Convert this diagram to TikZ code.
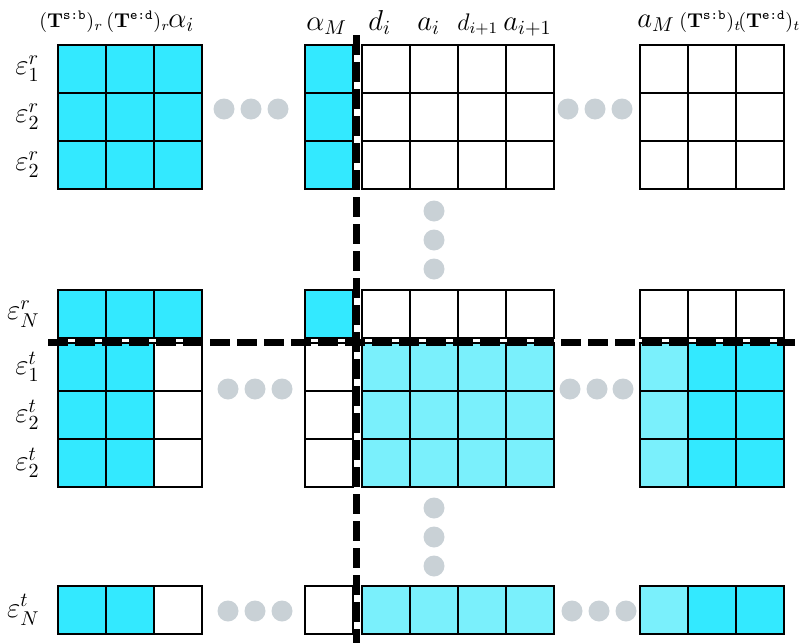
\documentclass[tikz,border=0pt]{standalone}
\usepackage{amsmath}
\usetikzlibrary{positioning}
\definecolor{cyanbox}{RGB}{51,233,255}
\definecolor{lightbox}{RGB}{122,240,252}
\definecolor{dotgray}{RGB}{201,209,214}

\begin{document}
\begin{tikzpicture}[x=0.5pt,y=-0.5pt,
  cell/.style={draw,line width=0.9pt,minimum size=24pt,inner sep=0pt,anchor=north west},
  full/.style={cell,fill=cyanbox},
  half/.style={cell,fill=lightbox},
  blank/.style={cell,fill=white},
  dot/.style={circle,fill=dotgray,minimum size=10.5pt,inner sep=0pt},
  cut/.style={line width=3.5pt,dash pattern=on 10pt off 3.5pt},
  lab/.style={inner sep=0pt,anchor=base west,font=\Large},
  row/.style={inner sep=0pt,left=8.5pt of #1,font=\Large}]
  \useasboundingbox (0,0) rectangle (810,643);

  % r rows
  \foreach \y/\r in {44/1,92/2,140/3,289/4} {
    \foreach \x/\c in {57/1,105/2,153/3} \node[full] (L\r\c) at (\x,\y) {};
    \node[full] (A\r) at (304,\y) {};
    \foreach \x/\c in {361/1,409/2,457/3,505/4} \node[blank] (D\r\c) at (\x,\y) {};
    \foreach \x/\c in {639/1,687/2,735/3} \node[blank] (R\r\c) at (\x,\y) {};
  }
  % t rows
  \foreach \y/\r in {342/5,390/6,438/7,585/8} {
    \node[full]	(L\r1)	at (57,\y)	{};
    \node[full]	(L\r2)	at (105,\y)	{};
    \node[blank]	(L\r3)	at (153,\y)	{};
    \node[blank]	(A\r)	at (304,\y)	{};
    \foreach \x/\c in {361/1,409/2,457/3,505/4} \node[half] (D\r\c) at (\x,\y) {};
    \node[half]	(R\r1)	at (639,\y)	{};
    \node[full]	(R\r2)	at (687,\y)	{};
    \node[full]	(R\r3)	at (735,\y)	{};
  }

  \node[row=L11]	(er1)	{$\varepsilon^r_1$};
  \node[row=L21]	(er2)	{$\varepsilon^r_2$};
  \node[row=L31]	(er3)	{$\varepsilon^r_2$};
  \node[row=L41]	(erN)	{$\varepsilon^r_N$};
  \node[row=L51]	(et1)	{$\varepsilon^t_1$};
  \node[row=L61]	(et2)	{$\varepsilon^t_2$};
  \node[row=L71]	(et3)	{$\varepsilon^t_2$};
  \node[row=L81]	(etN)	{$\varepsilon^t_N$};

  \node[lab,font=\normalsize]	(tsbr)	at (39,27)	{$(\mathbf{T}^{\text{\ttfamily s:b}})_r$};
  \node[lab,font=\normalsize]	(tedr)	at (106,27)	{$(\mathbf{T}^{\text{\ttfamily e:d}})_r$};
  \node[lab]	(ai)	at (168,27)	{$\alpha_i$};
  \node[lab]	(aM)	at (306,30)	{$\alpha_M$};
  \node[lab]	(di)	at (368,30)	{$d_i$};
  \node[lab]	(ai2)	at (417,30)	{$a_i$};
  \node[lab,font=\large]	(di1)	at (457,30)	{$d_{i+1}$};
  \node[lab]	(ai1)	at (503,30)	{$a_{i+1}$};
  \node[lab]	(am)	at (637,27)	{$a_M$};
  \node[lab,font=\normalsize]	(tsbt)	at (679,27)	{$(\mathbf{T}^{\text{\ttfamily s:b}})_t$};
  \node[lab,font=\normalsize]	(tedt)	at (738,27)	{$(\mathbf{T}^{\text{\ttfamily e:d}})_t$};

  % skipped columns and rows
  \foreach \x/\n in {224/1,251/2,278/3} \node[dot] (ul\n) at (\x,109) {};
  \foreach \x/\n in {568/1,595/2,622/3} \node[dot] (ur\n) at (\x,109) {};
  \foreach \x/\n in {228/1,255/2,282/3} \node[dot] (ml\n) at (\x,389) {};
  \foreach \x/\n in {570/1,597/2,623/3} \node[dot] (mr\n) at (\x,389) {};
  \foreach \x/\n in {228/1,255/2,282/3} \node[dot] (bl\n) at (\x,611) {};
  \foreach \x/\n in {572/1,599/2,626/3} \node[dot] (br\n) at (\x,611) {};
  \foreach \y/\n in {211/1,240/2,269/3} \node[dot] (vu\n) at (434,\y) {};
  \foreach \y/\n in {508/1,537/2,566/3} \node[dot] (vl\n) at (434,\y) {};

  \coordinate (h0) at (48,342);
  \coordinate (h1) at (795,342);
  \coordinate (v0) at (356,35);
  \coordinate (v1) at (356,643);
  \draw[cut] (h0) -- (h1);
  \draw[cut] (v0) -- (v1);
\end{tikzpicture}
\end{document}
